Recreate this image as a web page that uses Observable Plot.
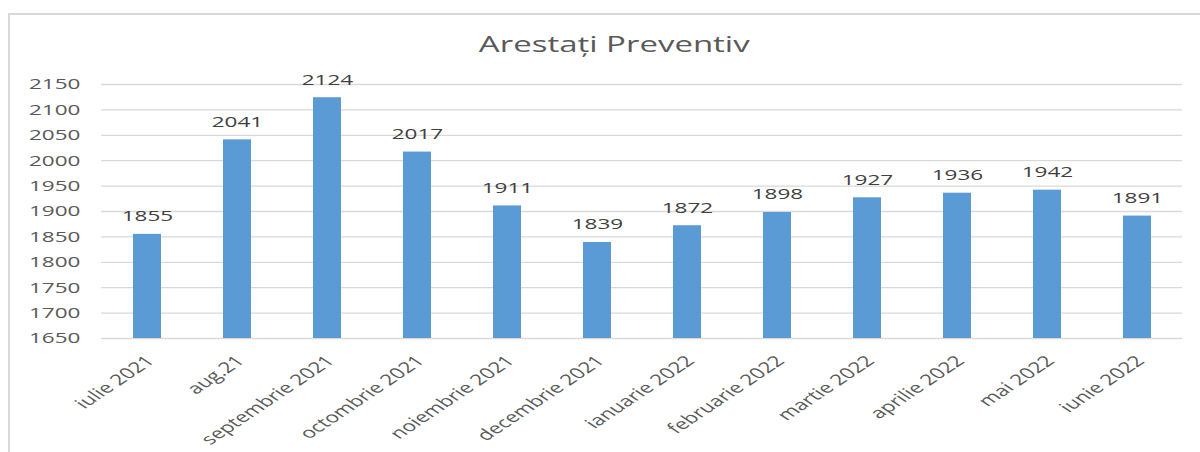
<!DOCTYPE html>
<html>
<head>
<meta charset="utf-8">
<script src="https://cdn.jsdelivr.net/npm/d3@7"></script>
<script src="https://cdn.jsdelivr.net/npm/@observablehq/plot@0.6"></script>
<style>
  html, body { margin: 0; padding: 0; background: #fff; width: 1200px; height: 452px; overflow: hidden; }
  #frame { position: absolute; left: 8px; top: 13px; width: 1210px; height: 460px; border: 2px solid #d9d9d9; box-sizing: border-box; }
  #title { position: absolute; left: 0; top: 30px; width: 1228px; text-align: center; font-family: "Open Sans", sans-serif; font-size: 21px; color: #595959; }
  #title span { display: inline-block; transform: scaleX(1.57); }
  #chart { position: absolute; left: 0; top: 70px; }
  #chart svg text { font-family: "Open Sans", sans-serif; }
</style>
</head>
<body>
<div id="frame"></div>
<div id="title"><span>Arestați Preventiv</span></div>
<div id="chart"></div>
<script>
const months = ["iulie 2021", "aug.21", "septembrie 2021", "octombrie 2021", "noiembrie 2021", "decembrie 2021", "ianuarie 2022", "februarie 2022", "martie 2022", "aprilie 2022", "mai 2022", "iunie 2022"];
const values = [1855, 2041, 2124, 2017, 1911, 1839, 1872, 1898, 1927, 1936, 1942, 1891];
const yTicks = [1650, 1700, 1750, 1800, 1850, 1900, 1950, 2000, 2050, 2100, 2150];
const yMin = 1650, yMax = 2150;

const data = months.map((m, i) => ({month: m, value: values[i]}));

const chart = Plot.plot({
  width: 1200,
  height: 382,
  marginTop: 14,
  marginBottom: 114,
  marginLeft: 101,
  marginRight: 18,
  style: {fontFamily: "Open Sans, sans-serif", background: "transparent", overflow: "visible"},
  x: {domain: months, padding: 0},
  y: {domain: [yMin, yMax]},
  marks: [
    Plot.gridY(yTicks, {stroke: "#d9d9d9", strokeOpacity: 1, strokeWidth: 1.3}),
    Plot.barY(data, {x: "month", y1: () => yMin, y2: "value", fill: "#5b9bd5", insetLeft: 31, insetRight: 31}),
    Plot.text(data, {x: "month", y: "value", text: d => String(d.value), dy: -18, fill: "#404040", fontSize: 15, className: "vlabel"}),
    Plot.axisY(yTicks, {tickSize: 0, tickPadding: 21, fontSize: 15, color: "#595959", label: null, tickFormat: d => String(d), className: "ylab"}),
    Plot.axisX({tickSize: 0, tickPadding: 12, tickRotate: -45, fontSize: 15, color: "#595959", label: null, className: "xlab"})
  ]
});
document.getElementById("chart").appendChild(chart);

// emulate the horizontally stretched look of the original
chart.querySelectorAll(".xlab [transform]").forEach(el => {
  const tr = el.getAttribute("transform");
  if (tr.includes("rotate")) el.setAttribute("transform", "translate(3,8) " + tr.replace("rotate", "scale(1.5,1) rotate"));
});
chart.querySelectorAll("text").forEach(t => {
  if (t.closest(".xlab")) return;
  const w = t.getComputedTextLength();
  if (w > 0) {
    t.setAttribute("textLength", (w * 1.5).toFixed(1));
    t.setAttribute("lengthAdjust", "spacingAndGlyphs");
  }
});
</script>
</body>
</html>
